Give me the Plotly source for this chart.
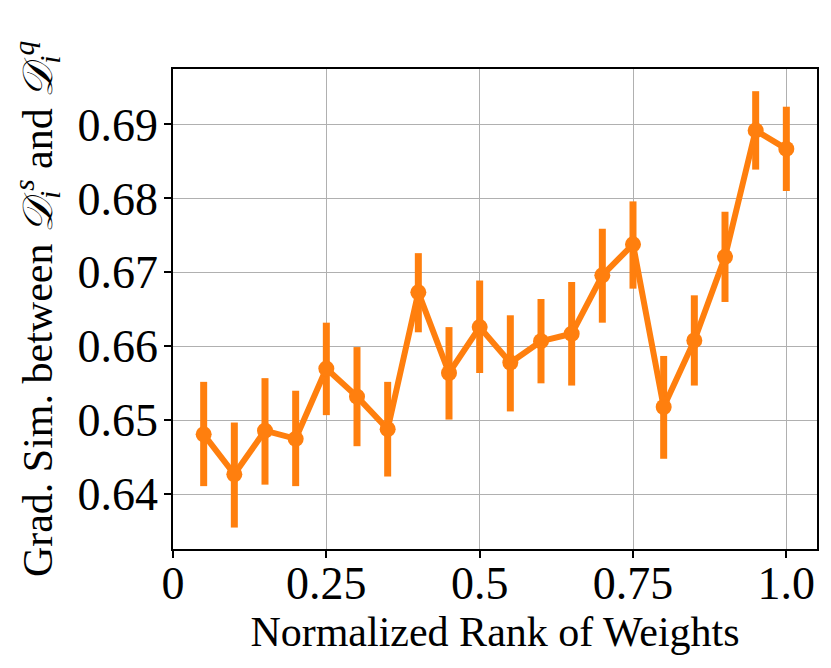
import plotly.graph_objects as go

rank = [0.05, 0.10, 0.15, 0.20, 0.25, 0.30, 0.35, 0.40, 0.45, 0.50,
        0.55, 0.60, 0.65, 0.70, 0.75, 0.80, 0.85, 0.90, 0.95, 1.00]
grad_sim = [0.6481, 0.6427, 0.6486, 0.6475, 0.6570, 0.6532, 0.6488, 0.6673, 0.6564, 0.6626,
            0.6578, 0.6607, 0.6617, 0.6696, 0.6738, 0.6518, 0.6608, 0.6721, 0.6892, 0.6867]
err_up = [0.0071, 0.0070, 0.0071, 0.0065, 0.0062, 0.0067, 0.0064, 0.0053, 0.0062, 0.0063,
          0.0064, 0.0057, 0.0070, 0.0063, 0.0058, 0.0069, 0.0061, 0.0061, 0.0053, 0.0057]
err_down = [0.0070, 0.0072, 0.0073, 0.0064, 0.0063, 0.0067, 0.0064, 0.0054, 0.0063, 0.0062,
            0.0066, 0.0057, 0.0070, 0.0064, 0.0060, 0.0070, 0.0061, 0.0061, 0.0053, 0.0057]

x_tickvals = [0, 0.25, 0.5, 0.75, 1.0]
x_ticktext = ["0", "0.25", "0.5", "0.75", "1.0"]
y_tickvals = [0.64, 0.65, 0.66, 0.67, 0.68, 0.69]
y_ticktext = ["0.64", "0.65", "0.66", "0.67", "0.68", "0.69"]

orange = "#ff7f0e"
base_font = "DejaVu Serif"
serif = "'Liberation Serif'"

fig = go.Figure()
fig.add_trace(go.Scatter(
    x=rank, y=grad_sim, mode="lines+markers",
    line=dict(color=orange, width=6),
    marker=dict(color=orange, size=16),
    error_y=dict(type="data", symmetric=False, array=err_up, arrayminus=err_down,
                 color=orange, thickness=7, width=0),
    showlegend=False,
))

fig.update_layout(
    width=823, height=660,
    margin=dict(l=165, r=14, t=61, b=119),
    paper_bgcolor="white", plot_bgcolor="white",
    font=dict(family=base_font, color="black", size=36),
    xaxis=dict(
        range=[0, 1.05], tickvals=x_tickvals, ticktext=x_ticktext,
        showgrid=True, gridcolor="#b0b0b0", gridwidth=1,
        showline=True, linecolor="black", linewidth=1.5, mirror=True,
        ticks="outside", ticklen=7, tickwidth=1.5, tickcolor="black",
        tickfont=dict(family=serif, size=46, color="black"), zeroline=False,
        ticklabelstandoff=-14,
        title=dict(text="Normalized Rank of Weights",
                   font=dict(family=serif, size=42, color="black"), standoff=8),
        automargin=False,
    ),
    yaxis=dict(
        range=[0.6326, 0.6975], tickvals=y_tickvals, ticktext=y_ticktext,
        showgrid=True, gridcolor="#b0b0b0", gridwidth=1,
        showline=True, linecolor="black", linewidth=1.5, mirror=True,
        ticks="outside", ticklen=7, tickwidth=1.5, tickcolor="black",
        tickfont=dict(family=serif, size=46, color="black"), zeroline=False,
        ticklabelstandoff=-3,
        title=dict(text="Grad. Sim. between <i>𝒟</i><sub><i>i</i></sub><sup><i>s</i></sup> and <i>𝒟</i><sub><i>i</i></sub><sup><i>q</i></sup>",
                   font=dict(family=serif, size=42, color="black"), standoff=18),
        automargin=False,
    ),
)

fig.write_html("out.html")
